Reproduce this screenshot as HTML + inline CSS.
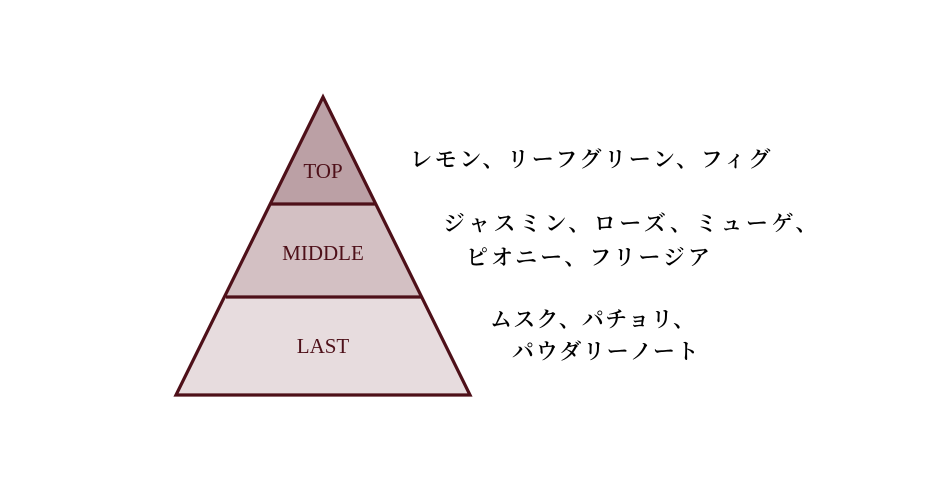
<!DOCTYPE html>
<html><head><meta charset="utf-8"><style>
html,body{margin:0;padding:0;background:#fff;}
body{width:940px;height:492px;position:relative;overflow:hidden;}
.t{position:absolute;font-family:"Liberation Serif","Noto Serif CJK JP","Noto Serif CJK SC",serif;font-weight:600;font-size:22px;line-height:22px;color:#000;white-space:nowrap;letter-spacing:2.5px;}
</style></head><body>
<svg width="940" height="492" style="position:absolute;left:0;top:0">
<polygon points="323,97 375,204 271,204" fill="#bba0a5"/>
<polygon points="271,204 375,204 422,297 226,297" fill="#d3c0c3"/>
<polygon points="226,297 422,297 470,395 176,395" fill="#e7dcde"/>
<polygon points="323,97 470,395 176,395" fill="none" stroke="#4e1019" stroke-width="3.2" stroke-linejoin="miter"/>
<line x1="271" y1="204" x2="375" y2="204" stroke="#4e1019" stroke-width="3.2"/>
<line x1="226" y1="297" x2="422" y2="297" stroke="#4e1019" stroke-width="3.2"/>
<g font-family="Liberation Serif, serif" font-size="21" fill="#4e1019" text-anchor="middle">
<text x="323" y="178">TOP</text>
<text x="323" y="260">MIDDLE</text>
<text x="323" y="353">LAST</text>
</g>
</svg>
<div class="t" style="left:410px;top:149px;letter-spacing:2.7px">レモン、リーフグリーン、フィグ</div>
<div class="t" style="left:443px;top:213px;letter-spacing:3.5px">ジャスミン、ローズ、ミューゲ、</div>
<div class="t" style="left:466px;top:247px;letter-spacing:3px">ピオニー、フリージア</div>
<div class="t" style="left:490px;top:309px;letter-spacing:1.2px">ムスク、パチョリ、</div>
<div class="t" style="left:512px;top:341px;letter-spacing:1.7px">パウダリーノート</div>
</body></html>
